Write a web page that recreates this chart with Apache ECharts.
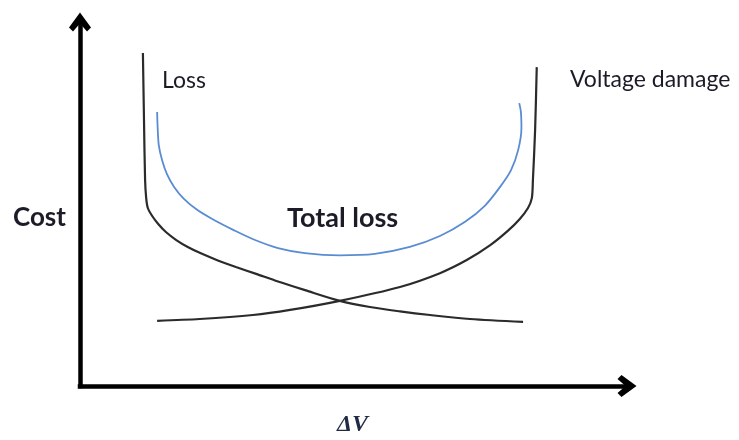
<!DOCTYPE html>
<html>
<head>
<meta charset="utf-8">
<script src="https://cdn.jsdelivr.net/npm/echarts@6/dist/echarts.min.js"></script>
<style>
  html, body { margin: 0; padding: 0; background: #fff; }
  #chart { width: 739px; height: 440px; }
</style>
</head>
<body>
<div id="chart"></div>
<script>
// Cost curves over the voltage deviation ΔV (both axes in relative units 0–100)
const lossX = [11.5, 11.7, 11.9, 12.1, 12.4, 13.2, 14.3, 15.7, 17.6, 19.7, 22.3, 25.2, 28.5, 32.2, 36.2, 41.0, 47.5, 53.0, 58.5, 64.0, 71.3, 81.0];
const lossY = [91.5, 73.1, 56.6, 51.6, 48.9, 46.7, 44.5, 42.3, 40.1, 38.2, 36.3, 34.5, 32.7, 30.8, 28.7, 26.4, 23.4, 21.7, 20.5, 19.5, 18.4, 17.6];

const damageX = [14.1, 21.9, 31.6, 38.4, 47.5, 58.5, 65.8, 70.7, 75.0, 78.2, 80.4, 81.9, 82.6, 82.8, 83.2, 83.5];
const damageY = [17.9, 18.4, 19.5, 20.9, 23.4, 27.2, 31.0, 34.6, 38.7, 42.6, 45.9, 48.9, 51.6, 56.6, 70.3, 87.6];

const totalX = [14.1, 14.2, 14.4, 15.0, 15.9, 17.2, 19.0, 21.4, 24.5, 28.0, 32.0, 36.2, 41.1, 47.5, 53.9, 60.3, 65.8, 70.4, 74.0, 76.8, 78.8, 80.1, 80.7, 80.6, 80.3];
const totalY = [75.3, 70.9, 66.2, 62.1, 58.2, 54.7, 51.4, 48.4, 45.6, 42.9, 40.1, 37.9, 36.5, 35.9, 36.3, 38.2, 41.2, 45.1, 49.5, 54.7, 59.3, 64.8, 70.9, 75.3, 77.7];

const labels = {
  loss: 'Loss',
  damage: 'Voltage damage',
  total: 'Total loss',
  yName: 'Cost',
  xName: 'ΔV'
};

const pairs = (xs, ys) => xs.map((x, i) => [x, ys[i]]);

// Open chevron arrow head, pointing up in its own box
const chevron = 'path://M11,0 L22,15 L18,19 L11,11 L4,19 L0,15 Z';

const axisBase = {
  type: 'value',
  min: 0,
  max: 100,
  axisTick: { show: false },
  axisLabel: { show: false },
  splitLine: { show: false },
  axisLine: {
    show: true,
    onZero: false,
    symbol: ['none', chevron],
    symbolSize: [22, 20],
    lineStyle: { color: '#000', width: 4.5, cap: 'square' }
  }
};

const curveStyle = { color: '#2b2b2b', width: 2.2 };
const textColor = '#1c1c28';

const chart = echarts.init(document.getElementById('chart'), null, { renderer: 'canvas' });
chart.setOption({
  animation: false,
  backgroundColor: '#fff',
  grid: { left: 80, right: 112, top: 22, bottom: 54 },
  xAxis: axisBase,
  yAxis: axisBase,
  series: [
    {
      name: labels.loss,
      type: 'line',
      data: pairs(lossX, lossY),
      smooth: 0.3,
      showSymbol: false,
      lineStyle: curveStyle
    },
    {
      name: labels.damage,
      type: 'line',
      data: pairs(damageX, damageY),
      smooth: 0.3,
      showSymbol: false,
      lineStyle: curveStyle
    },
    {
      name: labels.total,
      type: 'line',
      data: pairs(totalX, totalY),
      smooth: 0.3,
      showSymbol: false,
      lineStyle: { color: '#5a8cd2', width: 1.8 }
    }
  ],
  graphic: [
    { type: 'text', left: 162, top: 69, style: { text: labels.loss, font: '23px Lato', fill: textColor } },
    { type: 'text', left: 570, top: 68, style: { text: labels.damage, font: '23px Lato', fill: textColor } },
    { type: 'text', left: 13, top: 205, style: { text: labels.yName, font: 'bold 26px Lato', fill: textColor } },
    { type: 'text', left: 287, top: 205, style: { text: labels.total, font: 'bold 27px Lato', fill: textColor } },
    { type: 'text', left: 337, top: 413, style: { text: labels.xName, font: 'italic bold 24px "Liberation Serif"', fill: '#1f2a44' } }
  ]
});
</script>
</body>
</html>
